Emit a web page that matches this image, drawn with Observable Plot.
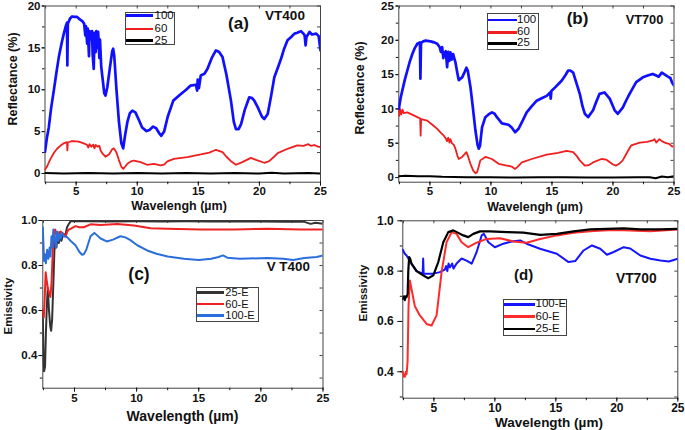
<!DOCTYPE html>
<html><head><meta charset="utf-8">
<script src="https://cdn.jsdelivr.net/npm/d3@7"></script>
<script src="https://cdn.jsdelivr.net/npm/@observablehq/plot@0.6"></script>
<style>
body{margin:0;background:#fff;}
#root{position:relative;width:685px;height:430px;overflow:hidden;font-family:'Liberation Sans',Arial,sans-serif;background:#fff;}
.p{position:absolute;}
.t{position:absolute;transform:translate(-50%,-50%);white-space:nowrap;font-weight:bold;color:#111;line-height:1;}
.r{transform:translate(-50%,-50%) rotate(-90deg);}
.lg{position:absolute;border:1px solid #444;background:#fff;box-sizing:border-box;}
.ll{position:absolute;}
.lt{position:absolute;transform:translateY(-50%);font-size:12px;color:#111;line-height:1;white-space:nowrap;}
</style></head><body><div id="root"></div>
<script>
// ---------- data (wavelength µm, value) ----------
const a100 = [[2.45,2.6],[2.6,4.2],[2.76,5.5],[2.95,7.8],[3.17,9.9],[3.38,12.0],[3.58,13.9],[3.8,15.5],[3.99,16.7],[4.15,17.6],[4.25,18.0],[4.28,12.9],[4.32,17.9],[4.5,18.5],[4.67,18.75],[4.9,18.7],[5.08,18.7],[5.3,18.4],[5.5,18.2],[5.65,17.9],[5.75,16.5],[5.8,17.6],[5.9,15.5],[5.95,17.3],[6.05,14.0],[6.1,17.0],[6.2,16.0],[6.3,17.0],[6.35,14.2],[6.44,12.5],[6.5,16.8],[6.6,14.5],[6.65,17.0],[6.75,15.0],[6.8,16.9],[6.9,13.8],[6.95,16.0],[7.05,12.8],[7.15,11.5],[7.3,9.6],[7.4,9.3],[7.55,10.3],[7.75,12.5],[7.95,14.6],[8.03,14.9],[8.12,14.0],[8.3,10.0],[8.5,6.2],[8.7,3.6],[8.85,3.0],[9.0,4.5],[9.2,6.2],[9.4,7.2],[9.6,7.5],[9.85,7.3],[10.1,6.5],[10.4,5.5],[10.76,5.06],[11.0,5.2],[11.3,5.6],[11.55,5.4],[11.8,4.8],[11.97,4.5],[12.2,5.0],[12.5,6.8],[12.95,8.7],[13.5,9.4],[14.0,10.0],[14.37,10.5],[14.8,10.6],[14.9,9.9],[14.95,11.2],[15.05,10.2],[15.2,11.7],[15.5,11.9],[15.75,12.5],[16.1,13.8],[16.44,14.7],[16.7,14.5],[16.98,13.9],[17.3,11.8],[17.67,8.7],[17.9,6.2],[18.08,5.3],[18.3,5.3],[18.5,5.9],[18.8,7.6],[19.17,9.1],[19.4,9.0],[19.58,8.7],[19.9,7.8],[20.2,6.8],[20.4,6.5],[20.68,7.1],[20.95,9.2],[21.22,11.5],[21.5,12.6],[21.77,13.7],[22.0,14.8],[22.3,15.9],[22.6,16.3],[22.87,16.7],[23.1,16.8],[23.4,17.0],[23.6,16.7],[23.7,16.5],[23.78,15.3],[23.85,16.3],[24.1,16.9],[24.3,16.6],[24.65,16.7],[24.85,16.4],[25,14.7]];
const a60 = [[2.45,0.45],[2.6,0.8],[2.9,1.75],[3.2,2.5],[3.44,2.95],[3.7,3.3],[3.99,3.6],[4.25,3.75],[4.28,2.75],[4.32,3.7],[4.6,3.85],[4.8,3.87],[5.2,3.8],[5.63,3.6],[5.9,3.4],[6.0,3.1],[6.1,3.5],[6.25,3.2],[6.4,3.45],[6.5,3.0],[6.6,3.4],[6.75,3.2],[6.9,3.3],[7.0,2.75],[7.2,2.3],[7.4,2.0],[7.7,2.3],[7.95,2.9],[8.09,3.0],[8.3,2.5],[8.5,1.6],[8.7,0.8],[8.86,0.56],[9.0,0.8],[9.19,1.16],[9.5,1.45],[9.73,1.55],[10.28,1.36],[10.8,1.04],[11.37,1.16],[11.9,0.96],[12.2,1.05],[12.47,1.44],[13.0,1.75],[14.1,1.95],[15.2,2.27],[15.9,2.5],[16.44,2.83],[16.98,2.55],[17.3,2.0],[17.67,1.47],[18.08,1.04],[18.6,1.36],[19.3,1.87],[19.72,1.63],[20.4,1.28],[20.8,1.47],[21.2,2.0],[21.5,2.43],[22.3,2.95],[23.1,3.35],[23.6,3.3],[24.0,3.5],[24.2,3.3],[24.5,3.4],[24.8,3.2],[25,3.15]];
const a25 = [[2.45,0.05],[4,0.0],[6,0.05],[8,0.0],[10,0.05],[12,0.0],[14,0.05],[16,0.0],[18,0.05],[20,0.0],[21,0.1],[22,0.0],[24,0.05],[25,0.0]];

const b100 = [[2.45,10.0],[2.6,11.6],[2.74,12.7],[2.95,14.3],[3.15,15.6],[3.35,16.9],[3.56,18.0],[3.77,18.9],[3.97,19.5],[4.18,19.7],[4.22,14.4],[4.27,19.6],[4.45,19.85],[4.65,19.95],[5.05,19.85],[5.35,19.7],[5.6,19.5],[5.8,19.0],[5.9,18.3],[6.0,19.0],[6.1,17.4],[6.14,18.0],[6.3,18.4],[6.41,16.1],[6.5,18.3],[6.6,17.0],[6.68,18.25],[6.8,17.2],[6.9,18.0],[7.09,16.8],[7.25,15.2],[7.36,14.2],[7.64,14.6],[7.85,15.4],[7.99,16.0],[8.1,15.6],[8.32,13.2],[8.5,10.5],[8.73,6.85],[8.9,4.8],[9.0,4.2],[9.1,4.6],[9.27,7.3],[9.54,8.8],[9.8,9.2],[10.08,9.5],[10.3,9.3],[10.49,8.8],[10.9,7.9],[11.44,7.7],[11.7,7.3],[11.98,6.6],[12.26,7.1],[12.6,8.3],[12.93,9.5],[13.35,10.4],[13.75,11.2],[14.2,11.6],[14.57,11.9],[14.85,12.4],[14.9,11.5],[14.95,12.6],[15.24,13.1],[15.79,14.1],[16.1,14.9],[16.33,15.6],[16.5,15.6],[16.74,15.3],[17.0,13.8],[17.28,12.2],[17.5,10.4],[17.69,9.3],[17.96,8.8],[18.37,9.8],[18.6,10.9],[18.9,12.2],[19.3,12.4],[19.73,11.5],[20.14,9.8],[20.4,9.3],[20.8,10.2],[21.1,11.3],[21.36,12.2],[21.9,13.9],[22.45,14.6],[22.9,14.9],[23.26,15.1],[23.5,14.9],[23.75,14.7],[24.0,15.3],[24.25,15.0],[24.5,14.7],[24.7,14.5],[24.85,13.8],[25,13.4]];
const b60 = [[2.45,10.1],[2.5,9.0],[2.55,10.0],[2.65,9.2],[2.75,9.9],[2.85,9.4],[3.15,9.5],[3.5,9.2],[3.97,8.8],[4.2,8.6],[4.24,6.1],[4.28,8.5],[4.78,8.3],[5.2,7.7],[5.6,7.1],[5.9,6.5],[6.14,6.1],[6.3,5.7],[6.4,5.3],[6.5,5.8],[6.6,5.1],[6.68,5.6],[6.8,5.0],[6.95,4.8],[7.09,4.2],[7.25,3.2],[7.36,2.7],[7.64,3.0],[7.99,3.7],[8.1,3.2],[8.32,2.0],[8.55,1.0],[8.73,0.63],[8.86,0.78],[9.0,1.6],[9.13,2.5],[9.54,3.0],[10.08,2.7],[10.63,2.0],[11.3,1.75],[11.7,1.6],[11.98,1.26],[12.2,1.6],[12.53,2.2],[13.34,2.7],[14.57,3.35],[15.5,3.6],[16.2,3.9],[16.74,3.7],[17.0,3.2],[17.28,2.5],[17.69,1.75],[18.0,1.8],[18.37,2.2],[19.05,2.7],[19.46,2.6],[20.0,1.9],[20.27,1.75],[20.5,2.0],[20.8,2.5],[21.2,3.8],[21.5,4.7],[22.2,5.1],[22.8,5.2],[23.26,5.4],[23.4,5.6],[23.55,5.1],[23.8,5.6],[24.0,5.3],[24.35,5.0],[24.6,4.9],[24.85,4.5],[25,4.6]];
const b25 = [[2.45,0.2],[3,0.25],[4,0.2],[5,0.2],[6,0.1],[8,0.05],[10,0.05],[12,0.0],[14,0.05],[16,0.05],[18,0.0],[20,0.0],[22,0.05],[23,0.05],[23.5,-0.1],[24,0.15],[24.5,0.05],[25,0.2]];

const c25E = [[2.45,0.6],[2.5,0.4],[2.55,0.33],[2.63,0.35],[2.7,0.5],[2.78,0.63],[2.85,0.7],[2.95,0.6],[3.05,0.53],[3.12,0.51],[3.2,0.56],[3.3,0.72],[3.38,0.86],[3.45,0.92],[3.55,0.88],[3.65,0.94],[3.75,0.9],[3.85,0.95],[3.95,0.91],[4.1,0.94],[4.25,0.93],[4.4,0.97],[4.55,0.985],[4.7,0.997],[6,0.997],[8,0.996],[10,0.997],[12,0.996],[14,0.997],[16,0.996],[18,0.996],[20,0.996],[22,0.995],[23.5,0.994],[24,0.985],[24.4,0.99],[25,0.985]];
const c60E = [[2.45,0.6],[2.53,0.57],[2.6,0.65],[2.68,0.77],[2.75,0.74],[2.85,0.70],[2.95,0.68],[3.06,0.66],[3.15,0.72],[3.25,0.86],[3.33,0.95],[3.45,0.96],[3.55,0.93],[3.65,0.95],[3.74,0.92],[3.9,0.95],[4.14,0.94],[4.3,0.93],[4.41,0.95],[4.55,0.96],[4.68,0.963],[5.08,0.975],[5.4,0.97],[5.75,0.97],[6.29,0.983],[7.1,0.98],[8.44,0.984],[9.78,0.978],[11.13,0.966],[12.47,0.963],[15.16,0.96],[17.85,0.96],[20.54,0.963],[23.2,0.96],[25,0.96]];
const c100E = [[2.45,0.97],[2.5,0.9],[2.55,0.82],[2.62,0.85],[2.7,0.81],[2.8,0.87],[2.9,0.83],[3.0,0.88],[3.06,0.84],[3.15,0.93],[3.22,0.88],[3.3,0.96],[3.38,0.93],[3.5,0.88],[3.6,0.95],[3.7,0.91],[3.8,0.94],[3.9,0.92],[4.0,0.945],[4.14,0.93],[4.41,0.926],[4.68,0.91],[5.08,0.89],[5.4,0.86],[5.6,0.848],[5.75,0.85],[5.95,0.87],[6.29,0.93],[6.6,0.945],[6.8,0.935],[7.1,0.92],[7.6,0.907],[8.1,0.915],[8.7,0.93],[9.1,0.925],[9.5,0.913],[10.05,0.89],[10.85,0.867],[11.6,0.852],[12.5,0.84],[13.8,0.83],[15.0,0.825],[16.0,0.83],[16.6,0.838],[16.95,0.845],[17.3,0.835],[18.3,0.83],[20.5,0.833],[21.8,0.83],[22.6,0.825],[23.5,0.833],[24.5,0.838],[25,0.845]];

const d25E = [[2.45,0.69],[2.55,0.70],[2.62,0.685],[2.7,0.70],[2.76,0.697],[2.85,0.71],[2.9,0.80],[2.97,0.856],[3.05,0.85],[3.16,0.83],[3.58,0.80],[4.12,0.783],[4.53,0.772],[4.95,0.783],[5.36,0.836],[5.77,0.915],[6.18,0.955],[6.59,0.962],[7.0,0.952],[7.41,0.942],[7.82,0.935],[8.23,0.948],[8.78,0.958],[9.6,0.958],[10.97,0.955],[12.34,0.953],[13.71,0.944],[15.08,0.948],[16.45,0.958],[17.82,0.966],[19.19,0.968],[20.56,0.97],[21.93,0.966],[23.5,0.966],[25,0.968]];
const d60E = [[2.45,0.4],[2.55,0.38],[2.62,0.38],[2.7,0.40],[2.76,0.39],[2.84,0.44],[2.92,0.66],[3.03,0.763],[3.16,0.73],[3.44,0.66],[3.85,0.624],[4.4,0.59],[4.81,0.584],[5.22,0.624],[5.63,0.796],[6.04,0.915],[6.45,0.955],[6.86,0.948],[7.27,0.915],[7.82,0.895],[8.5,0.913],[9.33,0.928],[10.42,0.931],[11.52,0.918],[12.6,0.913],[13.71,0.928],[15.08,0.942],[16.45,0.952],[17.82,0.958],[19.19,0.962],[20.56,0.962],[22.75,0.958],[25,0.965]];
const d100E = [[2.45,0.885],[2.6,0.87],[2.76,0.862],[3.16,0.83],[3.58,0.80],[3.99,0.792],[4.08,0.79],[4.12,0.85],[4.16,0.79],[4.4,0.79],[4.95,0.79],[5.49,0.796],[5.9,0.806],[6.0,0.82],[6.1,0.8],[6.2,0.83],[6.32,0.815],[6.5,0.83],[6.6,0.81],[6.86,0.83],[7.27,0.85],[7.68,0.842],[8.1,0.83],[8.5,0.875],[8.92,0.942],[9.1,0.948],[9.47,0.915],[10.0,0.895],[10.7,0.909],[11.38,0.918],[12.07,0.922],[12.6,0.909],[13.7,0.889],[15.08,0.869],[16.04,0.836],[16.59,0.84],[17.27,0.882],[17.96,0.902],[18.64,0.889],[19.19,0.865],[19.74,0.876],[20.56,0.895],[21.1,0.89],[21.93,0.862],[22.75,0.849],[23.58,0.842],[24.26,0.838],[25,0.849]];

// tick values
const xTicks = [5, 10, 15, 20, 25];
const xMinor = [2.5, 5, 7.5, 10, 12.5, 15, 17.5, 20, 22.5, 25];
const yTicksA = [0, 5, 10, 15, 20];
const yMinorA = [0, 2.5, 5, 7.5, 10, 12.5, 15, 17.5, 20];
const yTicksB = [0, 5, 10, 15, 20, 25];
const yMinorB = [0, 2.5, 5, 7.5, 10, 12.5, 15, 17.5, 20, 22.5, 25];
const yTicksE = [0.4, 0.6, 0.8, 1.0];
const yMinorC = [0.3, 0.4, 0.5, 0.6, 0.7, 0.8, 0.9, 1.0];
const yMinorD = [0.3, 0.4, 0.5, 0.6, 0.7, 0.8, 0.9, 1.0];

// labels
const xTitleAB = "Wavelengh (µm)";
const xTitleCD = "Wavelength (µm)";
const yTitleAB = "Reflectance (%)";
const yTitleCD = "Emissivity";

// ---------- panels ----------
const panels = [
  {left:0, top:0, width:340, height:205, ml:44.5, mr:20, mt:5.5, mb:23.3, yDomain:[-1.04,20],
   yTicks:yTicksA, yMinor:yMinorA, yFmt:d=>String(d), fs:11.5, ytSize:3, ytPad:1.5, xtPad:0.5,
   series:[{d:a25,c:"#000",w:2},{d:a60,c:"#f01e1e",w:1.8},{d:a100,c:"#1010ff",w:2.7}]},
  {left:340, top:0, width:345, height:205, ml:58.3, mr:11.5, mt:5.5, mb:23.3, yDomain:[-0.68,25],
   yTicks:yTicksB, yMinor:yMinorB, yFmt:d=>String(d), fs:11.5, ytSize:3, ytPad:2, xtPad:0.5,
   series:[{d:b25,c:"#000",w:2},{d:b60,c:"#f01e1e",w:1.8},{d:b100,c:"#1010ff",w:2.7}]},
  {left:0, top:205, width:340, height:225, ml:42.3, mr:17.5, mt:15, mb:42.3, yDomain:[0.255,1.0],
   yTicks:yTicksE, yMinor:yMinorC, yFmt:d=>d.toFixed(1), fs:11.5, ytSize:4, ytPad:1.5, xtPad:2,
   series:[{d:c25E,c:"#333",w:2},{d:c60E,c:"#ee2222",w:2},{d:c100E,c:"#2a6ede",w:2}]},
  {left:340, top:205, width:345, height:225, ml:62.3, mr:7.7, mt:15.3, mb:32.3, yDomain:[0.295,1.0],
   yTicks:yTicksE, yMinor:yMinorD, yFmt:d=>d.toFixed(1), fs:12, ytSize:5, ytPad:4, xtPad:1.5,
   series:[{d:d100E,c:"#1414ff",w:2},{d:d60E,c:"#ff2a2a",w:2},{d:d25E,c:"#000",w:2.2}]}
];

const root = document.getElementById("root");
for (const p of panels) {
  const fw = p.width - p.ml - p.mr;
  const fh = p.height - p.mt - p.mb;
  const marks = [
    Plot.frame({stroke:"#444", strokeWidth:1}),
    Plot.axisX(xTicks, {anchor:"bottom", tickSize:4, tickPadding:p.xtPad, label:null, tickFormat:d=>String(d)}),
    Plot.axisX(xMinor, {anchor:"bottom", tickSize:2.5, label:null, tickFormat:()=>""}),
    Plot.tickX(xMinor, {x:d=>d, insetBottom:fh - 3, stroke:"#444"}),
    Plot.axisY(p.yTicks, {anchor:"left", tickSize:p.ytSize, tickPadding:p.ytPad, label:null, tickFormat:p.yFmt}),
    Plot.axisY(p.yMinor, {anchor:"left", tickSize:2.5, label:null, tickFormat:()=>""}),
    Plot.tickY(p.yMinor, {y:d=>d, insetLeft:fw - 3, stroke:"#444"})
  ];
  for (const s of p.series) {
    marks.push(Plot.line(s.d, {x:d=>d[0], y:d=>d[1], stroke:s.c, strokeWidth:s.w, clip:true, strokeLinejoin:"round"}));
  }
  const svg = Plot.plot({
    width:p.width, height:p.height,
    marginLeft:p.ml, marginRight:p.mr, marginTop:p.mt, marginBottom:p.mb,
    x:{domain:[2.45,25]}, y:{domain:p.yDomain},
    style:{fontFamily:"'Liberation Sans', Arial, sans-serif", fontSize:p.fs+"px", fontWeight:"bold", color:"#111", background:"transparent", overflow:"visible"},
    marks
  });
  svg.classList.add("p");
  svg.style.left = p.left + "px";
  svg.style.top = p.top + "px";
  root.appendChild(svg);
}

// ---------- text overlays ----------
function txt(s, x, y, size, rot) {
  const el = document.createElement("div");
  el.className = "t" + (rot ? " r" : "");
  el.textContent = s;
  el.style.left = x + "px"; el.style.top = y + "px"; el.style.fontSize = size + "px";
  root.appendChild(el);
}
txt(xTitleAB, 179, 205.5, 12.5);
txt(yTitleAB, 13.3, 79, 12.5, true);
txt(xTitleAB, 535, 207, 12.5);
txt(yTitleAB, 360, 87.5, 12.5, true);
txt(xTitleCD, 182.5, 415.5, 14);
txt(yTitleCD, 8.5, 306, 11.5, true);
txt(xTitleCD, 549, 423, 13.5);
txt(yTitleCD, 363.5, 293, 11.5, true);

txt("(a)", 238.5, 23, 17);
txt("VT400", 285, 16, 13.5);
txt("(b)", 577.5, 18, 17);
txt("VT700", 644.5, 20, 12.8);
txt("(c)", 139, 275, 17.5);
txt("V T400", 288.3, 267, 13.4);
txt("(d)", 523.7, 274, 15);
txt("VT700", 636.3, 279, 13.8);

// ---------- legends ----------
const legA = [["100","#1010ff"],["60","#f01e1e"],["25","#000"]];
const legB = [["100","#1010ff"],["60","#f01e1e"],["25","#000"]];
const legC = [["25-E","#333"],["60-E","#ee2222"],["100-E","#2a6ede"]];
const legD = [["100-E","#1414ff"],["60-E","#ff2a2a"],["25-E","#000"]];
function legend(rows, x0, y0, x1, y1, lineEnd, textX, rowYs, fs) {
  const box = document.createElement("div");
  box.className = "lg";
  box.style.left = x0 + "px"; box.style.top = y0 + "px";
  box.style.width = (x1 - x0) + "px"; box.style.height = (y1 - y0) + "px";
  root.appendChild(box);
  rows.forEach((r, i) => {
    const ln = document.createElement("div");
    ln.className = "ll";
    ln.style.left = (x0 + 1) + "px"; ln.style.top = (rowYs[i] - 1.25) + "px";
    ln.style.width = (lineEnd - x0 - 1) + "px"; ln.style.height = "2.5px";
    ln.style.background = r[1];
    root.appendChild(ln);
    const t = document.createElement("div");
    t.className = "lt";
    t.textContent = r[0];
    t.style.left = textX + "px"; t.style.top = rowYs[i] + "px"; t.style.fontSize = fs + "px";
    root.appendChild(t);
  });
}
legend(legA, 125, 11.7, 175, 45, 153, 154.5, [15.7, 29, 40.7], 11.5);
legend(legB, 486.7, 13.3, 539.3, 50, 516.7, 517, [20, 32.3, 43.3], 11.5);
legend(legC, 195.7, 286.7, 259.3, 321.7, 224, 225.3, [292.3, 304, 315.3], 11);
legend(legD, 503.3, 299, 567.3, 335.7, 535, 535.5, [304.3, 316.7, 329], 11.5);
</script></body></html>
